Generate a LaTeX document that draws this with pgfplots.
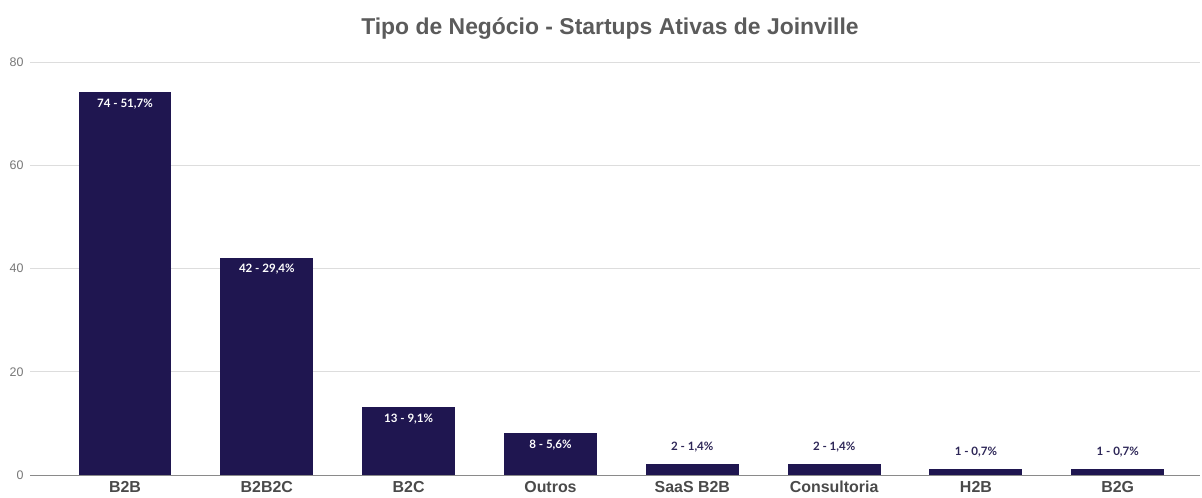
\documentclass[border=0pt]{standalone}
\usepackage{pgfplots}
\pgfplotsset{compat=1.18}
\usepackage{fontspec}
\setmainfont{Liberation Sans}
\newfontfamily\lbl{Lato}
\definecolor{barc}{HTML}{1F1650}
\definecolor{titc}{HTML}{5B5B5B}
\definecolor{catc}{HTML}{4A4A4A}
\definecolor{tickc}{HTML}{777777}
\definecolor{gridc}{HTML}{DDDDDD}
\definecolor{axc}{HTML}{8A8A8A}
\begin{document}
\begin{tikzpicture}[x=1bp,y=1bp]
\path[use as bounding box] (0,0) rectangle (1202,498);
\node[font=\bfseries\fontsize{23}{25}\selectfont, text=titc] at (610,469) {Tipo de Negócio - Startups Ativas de Joinville};
\begin{axis}[
  at={(30bp,23bp)}, anchor=south west,
  scale only axis, width=1170bp, height=413bp,
  xmin=-0.67, xmax=7.58, ymin=0, ymax=80,
  axis x line*=bottom, axis y line*=left,
  y axis line style={draw=none},
  ytick={0,20,40,60,80},
  ymajorgrids, grid style={gridc, line width=0.8pt},
  xtick={0,...,7},
  xticklabels={B2B,B2B2C,B2C,Outros,SaaS B2B,Consultoria,H2B,B2G},
  major tick length=0pt,
  x axis line style={axc, line width=0.8pt, -},
  /pgf/number format/assume math mode=true,
  xticklabel style={font=\bfseries\fontsize{16}{18}\selectfont, text=catc, text height=12bp, text depth=2bp, yshift=-2bp},
  yticklabel style={font=\fontsize{12.5}{14}\selectfont, text=tickc, xshift=-3bp},
  clip=false,
]
\addplot[ybar, bar width=0.648, fill=barc, draw=barc, line width=0pt] coordinates {
(0,74) (1,42) (2,13) (3,8) (4,2) (5,2) (6,1) (7,1)};
\addplot[draw=none, mark=none, nodes near coords, point meta=explicit symbolic,
  nodes near coords style={anchor=center, yshift=-11bp, font=\lbl\bfseries\fontsize{11.6}{13}\selectfont, text=white}]
coordinates {(0,74) [74 - 51,7\%] (1,42) [42 - 29,4\%] (2,13) [13 - 9,1\%] (3,8) [8 - 5,6\%]};
\addplot[draw=none, mark=none, nodes near coords, point meta=explicit symbolic,
  nodes near coords style={anchor=center, yshift=18bp, font=\lbl\bfseries\fontsize{11.6}{13}\selectfont, text=barc!85!gray}]
coordinates {(4,2) [2 - 1,4\%] (5,2) [2 - 1,4\%] (6,1) [1 - 0,7\%] (7,1) [1 - 0,7\%]};
\end{axis}
\end{tikzpicture}
\end{document}
